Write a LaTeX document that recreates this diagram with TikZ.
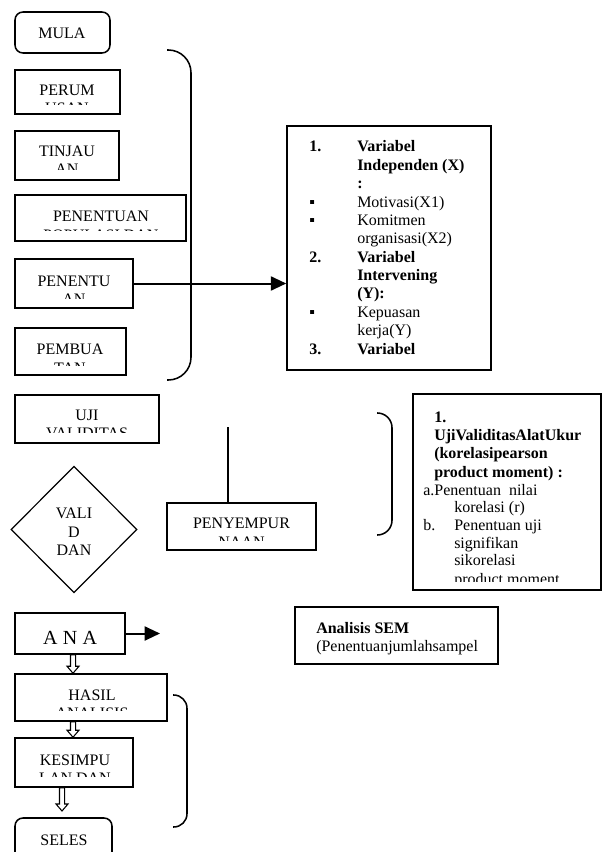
\documentclass[tikz,border=0pt]{standalone}
\usepackage{fontspec}
\setmainfont{Liberation Serif}
\usetikzlibrary{arrows.meta,shapes.geometric,fit,calc}
\newcommand\hollowarrow[3]{%
  \path[hollow] let \p1=(#1,0), \p2=(#2), \p3=(#3) in
    (\x1-1.9pt,\y2) -- (\x1-1.9pt,\y3+5.25pt) -- (\x1-4.5pt,\y3+5.25pt) -- (\x1,\y3)
    -- (\x1+4.5pt,\y3+5.25pt) -- (\x1+1.9pt,\y3+5.25pt) -- (\x1+1.9pt,\y2) -- cycle;}
\begin{document}
\begin{tikzpicture}[x=0.75pt,y=-0.75pt,
  box/.style={draw, line width=1.15pt, inner sep=0pt},
  rbox/.style={box, rounded corners=6pt},
  lbl/.style={inner sep=0pt, font=\fontsize{12}{14}\selectfont},
  blbl/.style={inner sep=0pt, font=\fontsize{12}{14}\selectfont\bfseries},
  tl/.style={lbl, anchor=base west},
  btl/.style={blbl, anchor=base west},
  conn/.style={line width=1.5pt, -{Triangle[length=11.5pt,width=10.5pt]}},
  brack/.style={line width=1.15pt},
  hollow/.style={draw, fill=white, line width=0.8pt}
]
\useasboundingbox (0,0) rectangle (602,852);

% ---- left column ----
\node[rbox, fit={(15,12)(110,53)}] (mula) {};
\node[lbl] (mulaT) at (62,33) {MULA};

\node[box, fit={(15,70)(120,114)}] (perum) {};
\begin{scope}
  \clip (15,70) rectangle (120,104.5);
  \node[lbl] (perumA) at (67,90) {PERUM};
  \node[lbl] (perumB) at (67,108.5) {USAN};
\end{scope}

\node[box, fit={(15,131)(119,180)}] (tinjau) {};
\begin{scope}
  \clip (15,131) rectangle (119,169.5);
  \node[lbl] (tinjauA) at (67,151) {TINJAU};
  \node[lbl] (tinjauB) at (67,169.5) {AN};
\end{scope}

\node[box, fit={(15,195)(186,241)}] (popul) {};
\begin{scope}
  \clip (15,195) rectangle (186,231);
  \node[lbl] (populA) at (101,216.5) {PENENTUAN};
  \node[lbl] (populB) at (101,235) {POPULASI DAN};
\end{scope}

\node[box, fit={(15,259)(133,308)}] (penentu) {};
\begin{scope}
  \clip (15,259) rectangle (133,298);
  \node[lbl] (penentuA) at (74,281) {PENENTU};
  \node[lbl] (penentuB) at (74,299.5) {AN};
\end{scope}

\node[box, fit={(15,328)(126,375)}] (pembua) {};
\begin{scope}
  \clip (15,328) rectangle (126,365);
  \node[lbl] (pembuaA) at (70,349.5) {PEMBUA};
  \node[lbl] (pembuaB) at (70,368) {TAN};
\end{scope}

\draw[brack, rounded corners=17pt] (167,50) -- (191,50) -- (191,380) -- (167,380);

\node[box, fit={(15,395)(159,443)}] (uji) {};
\begin{scope}
  \clip (15,395) rectangle (159,432.5);
  \node[lbl] (ujiA) at (87,415) {UJI};
  \node[lbl] (ujiB) at (87,433.5) {VALIDITAS};
\end{scope}

\node[draw, diamond, line width=0.9pt, inner sep=0pt, minimum width=94.5pt, minimum height=95pt] (valid) at (74,529.5) {};
\node[lbl] (validA) at (74,513) {VALI};
\node[lbl] (validB) at (74,532) {D};
\node[lbl] (validC) at (74,550) {DAN};

\node[box, fit={(167,503)(316,550)}] (peny) {};
\begin{scope}
  \clip (167,503) rectangle (316,540);
  \node[lbl] (penyA) at (241.5,523.5) {PENYEMPUR};
  \node[lbl] (penyB) at (241.5,542) {NAAN};
\end{scope}
\coordinate (ltop) at (228,427);
\draw[line width=1.15pt] (ltop) -- (ltop |- peny.north);

\node[box, fit={(15,613)(125,654)}] (ana) {};
\node[inner sep=0pt, font=\fontsize{15}{17}\selectfont] (anaT) at (70,638) {A\hspace{4pt}N\hspace{4pt}A};
\coordinate (anaEnd) at (160,633.5);
\draw[conn] (ana.east) -- (anaEnd);

\node[box, fit={(15,674)(167,721)}] (hasil) {};
\begin{scope}
  \clip (15,674) rectangle (167,710.5);
  \node[lbl] (hasilA) at (92,695) {HASIL};
  \node[lbl] (hasilB) at (92,713.5) {ANALISIS};
\end{scope}

\node[box, fit={(15,738)(133,787)}] (kesim) {};
\begin{scope}
  \clip (15,738) rectangle (133,776.5);
  \node[lbl] (kesimA) at (75,760) {KESIMPU};
  \node[lbl] (kesimB) at (75,778.5) {LAN DAN};
\end{scope}

\node[rbox, fit={(15,818)(112,870)}] (seles) {};
\node[lbl] (selesT) at (64,840) {SELES};

\coordinate (a3end) at (62,811);
\hollowarrow{73}{ana.south}{hasil.north}
\hollowarrow{73}{hasil.south}{kesim.north}
\hollowarrow{62}{kesim.south}{a3end}

\draw[brack, rounded corners=10pt] (173,695) -- (187,695) -- (187,827) -- (173,827);

% ---- variable box ----
\node[box, fit={(287,126)(491,370)}] (var) {};
\draw[conn] (penentu.east) -- (penentu.east -| var.west);
\begin{scope}
  \clip (287,126) rectangle (491,370);
  \node[btl] (v0n) at (309,152) {1.};
  \node[btl] (v0) at (357,152) {Variabel};
  \node[btl] (v1) at (357,170.4) {Independen (X)};
  \node[btl] (v2) at (357,188.7) {:};
  \node[tl] (v3n) at (309,207.1) {▪};
  \node[tl] (v3) at (357,207.1) {Motivasi(X1)};
  \node[tl] (v4n) at (309,225.4) {▪};
  \node[tl] (v4) at (357,225.4) {Komitmen};
  \node[tl] (v5) at (357,243.8) {organisasi(X2)};
  \node[btl] (v6n) at (309,262.2) {2.};
  \node[btl] (v6) at (357,262.2) {Variabel};
  \node[btl] (v7) at (357,280.5) {Intervening};
  \node[btl] (v8) at (357,298.9) {(Y):};
  \node[tl] (v9n) at (309,317.2) {▪};
  \node[tl] (v9) at (357,317.2) {Kepuasan};
  \node[tl] (v10) at (357,335.6) {kerja(Y)};
  \node[btl] (v11n) at (309,354) {3.};
  \node[btl] (v11) at (357,354) {Variabel};
\end{scope}

% ---- validity box ----
\draw[brack, rounded corners=11pt] (377,413) -- (392,413) -- (392,535) -- (377,535);
\node[box, fit={(413,394)(601,590)}] (uvb) {};
\begin{scope}
  \clip (413,394) rectangle (601,581);
  \node[btl] (u0) at (434,422) {1.};
  \node[btl] (u1) at (434,440.5) {UjiValiditasAlatUkur};
  \node[btl] (u2) at (434,458.5) {(korelasipearson};
  \node[btl] (u3) at (434,477) {product moment) :};
  \node[tl] (u4) at (423,495) {a.Penentuan\hspace{0.5em}nilai};
  \node[tl] (u5) at (454,512.5) {korelasi (r)};
  \node[tl] (u6n) at (423,530.5) {b.};
  \node[tl] (u6) at (454,530.5) {Penentuan uji};
  \node[tl] (u7) at (454,548) {signifikan};
  \node[tl] (u8) at (454,565.5) {sikorelasi};
  \node[tl] (u9) at (454,584) {product moment};
\end{scope}

% ---- SEM box ----
\node[box, fit={(295,607)(498,664)}] (sem) {};
\node[btl] (semA) at (316,633) {Analisis SEM};
\node[tl] (semB) at (316,651) {(Penentuanjumlahsampel};
\end{tikzpicture}
\end{document}
